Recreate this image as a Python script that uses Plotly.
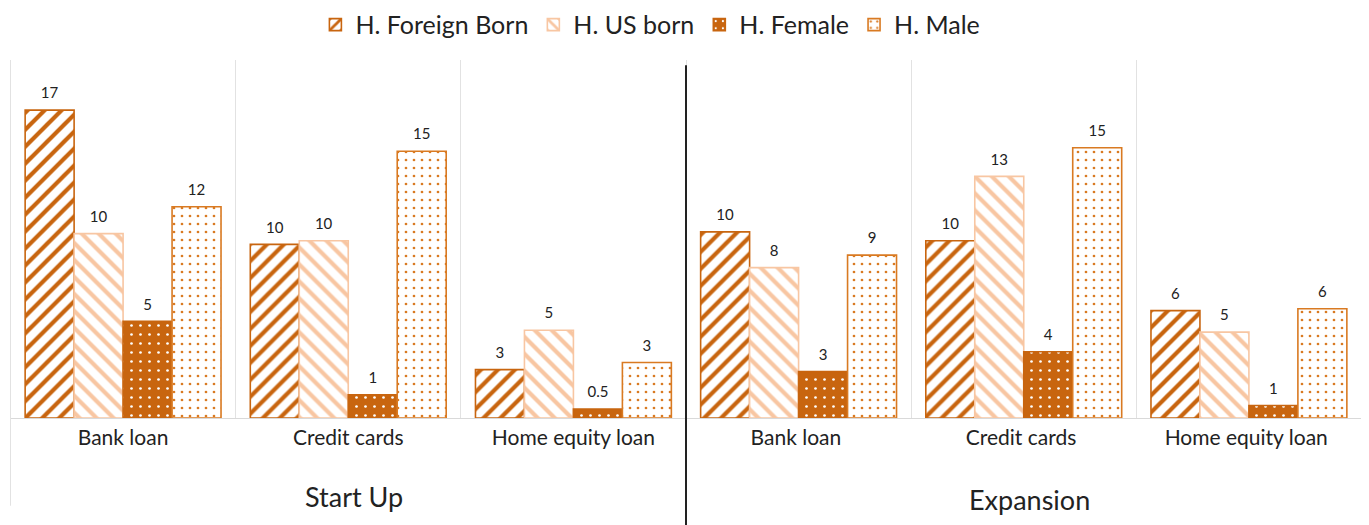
import plotly.graph_objects as go

# categories
categories = ["Bank loan", "Credit cards", "Home equity loan"]
stages = ["Start Up", "Expansion"]
x_labels = ["Bank loan", "Credit cards", "Home equity loan",
            "Bank loan ", "Credit cards ", "Home equity loan "]

# series values and their printed labels
foreign_born = [17.2, 9.7, 2.7, 10.4, 9.9, 6.0]
us_born = [10.3, 9.9, 4.9, 8.4, 13.5, 4.8]
female = [5.4, 1.3, 0.5, 2.6, 3.7, 0.7]
male = [11.8, 14.9, 3.1, 9.1, 15.1, 6.1]

foreign_born_txt = ["17", "10", "3", "10", "10", "6"]
us_born_txt = ["10", "10", "5", "8", "13", "5"]
female_txt = ["5", "1", "0.5", "3", "4", "1"]
male_txt = ["12", "15", "3", "9", "15", "6"]

DARK = "#C8650F"
PEACH = "#F8C6A2"
MID = "#D97A22"
FONT = "Lato"

fig = go.Figure()

def add(name, vals, txt, line_col, shape, fg, bg, solidity, size):
    # small base font + blank line lifts each label a little off the bar top
    labels = ["<span style='font-size:15px'>" + t + "</span><br> " for t in txt]
    fig.add_trace(go.Bar(
        name=name, x=x_labels, y=vals, text=labels,
        textposition="outside", cliponaxis=False,
        textfont=dict(size=6, color="#222222", family=FONT),
        marker=dict(color=bg, line=dict(color=line_col, width=1.6),
                    pattern=dict(shape=shape, fgcolor=fg, bgcolor=bg, fgopacity=1,
                                 solidity=solidity, size=size)),
    ))

add("H. Foreign Born", foreign_born, foreign_born_txt, DARK, "/", DARK, "white", 0.35, 12)
add("H. US born", us_born, us_born_txt, PEACH, "\\", PEACH, "white", 0.35, 12)
add("H. Female", female, female_txt, DARK, ".", "white", DARK, 0.07, 9)
add("H. Male", male, male_txt, MID, ".", MID, "white", 0.09, 8)

# group labels
fig.add_annotation(x=1, y=-0.218, xref="x", yref="paper", yanchor="middle", xshift=6,
                   text=stages[0], showarrow=False,
                   font=dict(size=27, color="#222222", family=FONT))
fig.add_annotation(x=4, y=-0.229, xref="x", yref="paper", yanchor="middle", xshift=6,
                   text=stages[1], showarrow=False,
                   font=dict(size=27, color="#222222", family=FONT))

# divider and edge lines
fig.add_shape(type="line", x0=2.5, x1=2.5, xref="x", y0=-0.32, y1=0.985, yref="paper",
              line=dict(color="#222222", width=2))
for xb in (-0.5, 5.5):
    fig.add_shape(type="line", x0=xb, x1=xb, xref="x", y0=-0.245, y1=1, yref="paper",
                  line=dict(color="#e2e2e2", width=1))

fig.update_layout(
    width=1361, height=517,
    margin=dict(l=2, r=7, t=52, b=107, autoexpand=False),
    plot_bgcolor="white", paper_bgcolor="white",
    barmode="group", bargap=0.13, bargroupgap=0,
    font=dict(family=FONT, color="#222222"),
    legend=dict(orientation="h", x=0.472, xanchor="center", xref="container",
                y=1.098, yanchor="middle", yref="paper",
                font=dict(size=25), itemwidth=30),
    showlegend=True,
)
fig.update_xaxes(type="category", tickson="boundaries", showgrid=True, gridcolor="#e2e2e2",
                 gridwidth=1, ticks="", showline=True, linecolor="#d9d9d9",
                 tickfont=dict(size=21, color="#222222"), ticklabelstandoff=1)
fig.update_yaxes(range=[0, 20], visible=False, showgrid=False)

fig.write_html("out.html")
